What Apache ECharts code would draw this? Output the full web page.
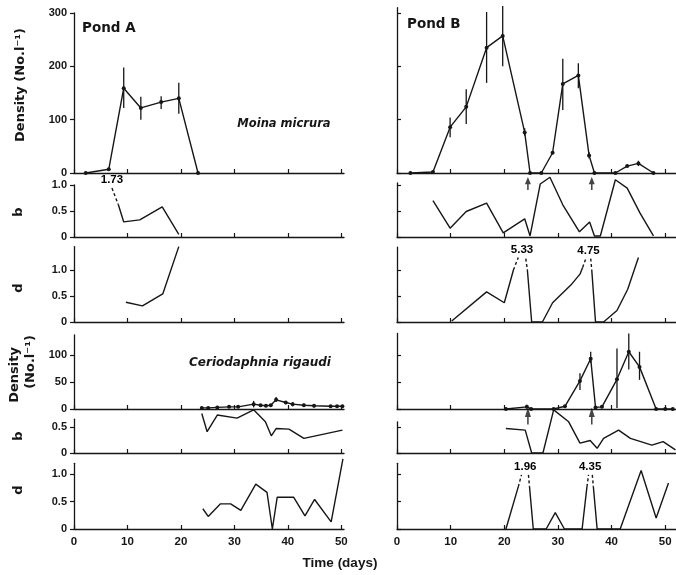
<!DOCTYPE html>
<html>
<head>
<meta charset="utf-8">
<script src="https://cdn.jsdelivr.net/npm/echarts@6/dist/echarts.min.js"></script>
<style>
  html, body { margin: 0; padding: 0; background: #fff; }
  #chart { width: 676px; height: 575px; }
</style>
</head>
<body>
<div id="chart"></div>
<script>
// ---------- data (time in days) ----------
const timeTicks = [0, 10, 20, 30, 40, 50];
const densityTicksMoina = [0, 100, 200, 300];
const densityTicksCerio = [0, 50, 100];
const rateTicks = [0, 0.5, 1.0];
const rateTicksShort = [0, 0.5];

// Days on which Pond B was disturbed (arrows)
const eventDaysB = [24.4, 36.3];

// Moina micrura density (No. l-1), mean and range
const moinaDensA = [[2.2, 0], [6.5, 7], [9.3, 159], [12.5, 122], [16.3, 133], [19.6, 140], [23.2, 0]];
const moinaDensAErr = [[9.3, 122, 198], [12.5, 100, 143], [16.3, 120, 144], [19.6, 111, 169]];
const moinaDensB = [[2.5, 0], [6.7, 2], [9.9, 86], [12.9, 124], [16.7, 235], [19.7, 257], [23.8, 76], [24.8, 0],
  [26.9, 0], [29.0, 38], [30.9, 167], [33.8, 183], [35.8, 33], [36.8, 0], [40.7, 0], [42.9, 13], [45.0, 18], [47.8, 0]];
const moinaDensBErr = [[9.9, 67, 104], [12.9, 92, 157], [16.7, 169, 302], [19.7, 200, 313], [23.8, 70, 84],
  [30.9, 118, 214], [33.8, 159, 206], [35.8, 27, 39], [45.0, 13, 23]];

// Moina micrura birth rate b
const moinaBirthA = [[8.3, 0.62], [9.3, 0.29], [12.3, 0.33], [16.5, 0.58], [19.6, 0.05]];
const moinaBirthAOff = [[7.1, 0.94], [8.3, 0.62]];
const moinaBirthAPeaks = [[7.1, 0.94, 1.73]];
const moinaBirthB = [[6.7, 0.70], [9.9, 0.17], [12.9, 0.49], [16.7, 0.65], [19.8, 0.08], [23.8, 0.35], [24.8, 0.02],
  [26.7, 1.02], [28.5, 1.15], [30.9, 0.62], [34.0, 0.10], [35.9, 0.29], [36.8, 0.02], [37.9, 0.02],
  [40.7, 1.10], [42.9, 0.94], [45.3, 0.46], [47.8, 0.02]];

// Moina micrura death rate d
const moinaDeathA = [[9.7, 0.38], [12.8, 0.31], [16.6, 0.54], [19.6, 1.45]];
const moinaDeathB = [
  [[10.2, 0.02], [16.7, 0.58], [20.0, 0.37], [21.7, 1.0]],
  [[24.3, 1.0], [25.1, 0], [27.1, 0], [29.0, 0.37], [32.4, 0.71], [34.1, 0.92], [34.6, 1.05]],
  [[36.3, 1.0], [37.0, 0], [38.5, 0], [41.0, 0.22], [43.0, 0.63], [45.0, 1.24]]
];
const moinaDeathBOff = [
  [[21.7, 1.0], [22.6, 1.24]], [[24.0, 1.22], [24.3, 1.0]],
  [[34.6, 1.05], [35.2, 1.22]], [[36.1, 1.22], [36.3, 1.0]]
];
const moinaDeathBPeaks = [[23.3, 1.23, 5.33], [35.7, 1.22, 4.75]];

// Ceriodaphnia rigaudi density (No. l-1)
const cerioDensA = [[23.9, 2], [25.1, 2], [26.8, 3], [29.0, 4], [30.7, 4], [33.6, 9], [34.9, 7], [35.9, 6],
  [36.8, 7], [37.8, 17], [39.6, 12], [40.9, 9], [43.0, 7], [44.9, 6], [48.0, 5], [49.2, 5], [50.2, 5]];
const cerioDensAErr = [[33.6, 3, 15], [37.8, 13, 22], [39.6, 9, 15], [40.9, 5, 13], [43.0, 4, 10], [44.9, 3, 9]];
const cerioDensB = [[20.3, 0], [24.2, 4], [25.0, 0], [29.2, 0], [31.3, 5], [34.1, 52], [36.1, 93], [37.0, 3],
  [38.2, 4], [41.0, 55], [43.2, 106], [45.2, 78], [48.3, 0], [50.0, 0], [51.4, 0]];
const cerioDensBErr = [[24.2, 1, 8], [34.1, 35, 66], [36.1, 85, 106], [41.0, 2, 112], [43.2, 73, 140], [45.2, 54, 106]];

// Ceriodaphnia rigaudi birth rate b
const cerioBirthA = [[23.9, 0.76], [24.9, 0.41], [26.8, 0.73], [30.5, 0.67], [33.6, 0.83], [35.8, 0.60],
  [36.9, 0.33], [37.8, 0.47], [40.2, 0.46], [43.0, 0.28], [50.2, 0.44]];
const cerioBirthB = [[20.3, 0.47], [23.9, 0.44], [25.1, 0], [27.2, 0], [29.2, 0.83], [32.0, 0.60], [34.1, 0.19],
  [36.0, 0.24], [37.3, 0.09], [38.5, 0.28], [41.3, 0.44], [43.5, 0.28], [47.5, 0.15], [49.6, 0.22], [51.9, 0.06]];

// Ceriodaphnia rigaudi death rate d
const cerioDeathA = [[24.1, 0.37], [25.1, 0.23], [27.4, 0.46], [29.3, 0.46], [31.2, 0.34], [34.0, 0.82],
  [36.1, 0.67], [37.1, 0], [38.0, 0.58], [41.1, 0.58], [43.2, 0.24], [45.0, 0.54], [48.1, 0.13], [50.3, 1.28]];
const cerioDeathB = [
  [[20.3, 0], [22.6, 0.77]],
  [[24.7, 0.77], [25.4, 0], [27.8, 0], [29.5, 0.30], [31.2, 0], [34.5, 0], [35.4, 0.77]],
  [[36.6, 0.77], [37.3, 0], [41.6, 0], [45.5, 1.07], [48.3, 0.20], [50.6, 0.84]]
];
const cerioDeathBOff = [
  [[22.6, 0.77], [23.2, 0.99]], [[24.5, 0.99], [24.7, 0.77]],
  [[35.4, 0.77], [35.7, 0.99]], [[36.4, 0.99], [36.6, 0.77]]
];
const cerioDeathBPeaks = [[23.9, 0.99, 1.96], [36.0, 0.99, 4.35]];

// ---------- layout ----------
const INK = '#161616';
const NUM_FONT = '"Liberation Sans", Arial, sans-serif';
const TITLE_FONT = '"DejaVu Sans", "Liberation Sans", sans-serif';

// one entry per row: pixel position of the value-0 line, scale, and the two ponds' axis max
const rows = [
  { zero: 173, pxPerUnit: 160 / 300, maxA: 300, maxB: 310, ticks: densityTicksMoina, fmt: 'int' },
  { zero: 237, pxPerUnit: 52, maxA: 1.0, maxB: 1.04, ticks: rateTicks, fmt: 'dec' },
  { zero: 322, pxPerUnit: 52, maxA: 1.45, maxB: 1.44, ticks: rateTicks, fmt: 'dec' },
  { zero: 409, pxPerUnit: 0.54, maxA: 137, maxB: 140, ticks: densityTicksCerio, fmt: 'int' },
  { zero: 453, pxPerUnit: 52, maxA: 0.65, maxB: 0.6, ticks: rateTicksShort, fmt: 'dec' },
  { zero: 529, pxPerUnit: 54.7, maxA: 1.2, maxB: 1.2, ticks: rateTicks, fmt: 'dec' }
];
const ponds = [
  { left: 74, xMax: 50.5, width: 270 },
  { left: 397, xMax: 52, width: 279 }
];

const grids = [], xAxes = [], yAxes = [];
rows.forEach((r, ri) => {
  ponds.forEach((p, pi) => {
    const max = pi === 0 ? r.maxA : r.maxB;
    const h = max * r.pxPerUnit;
    grids.push({ left: p.left, top: r.zero - h, width: p.width, height: h, containLabel: false, outerBoundsMode: 'none' });
    const gi = grids.length - 1;
    const bottom = ri === rows.length - 1;
    xAxes.push({
      type: 'value', gridIndex: gi, min: 0, max: p.xMax,
      axisLine: { show: true, onZero: false, lineStyle: { color: INK, width: 1.3 } },
      axisTick: { show: true, inside: true, length: 4, customValues: timeTicks, lineStyle: { color: INK, width: 1.2 } },
      axisLabel: { show: bottom, customValues: timeTicks, margin: 7, color: INK, fontSize: 11.5, fontWeight: 'bold', fontFamily: NUM_FONT },
      splitLine: { show: false }
    });
    yAxes.push({
      type: 'value', gridIndex: gi, min: 0, max: max,
      axisLine: { show: true, onZero: false, lineStyle: { color: INK, width: 1.3 } },
      axisTick: { show: true, inside: pi === 1, length: 4, customValues: r.ticks, lineStyle: { color: INK, width: 1.2 } },
      axisLabel: {
        show: pi === 0, customValues: r.ticks, margin: 7, color: INK, fontSize: 11, fontWeight: 'bold', fontFamily: NUM_FONT,
        formatter: v => (r.fmt === 'dec' && v !== 0) ? v.toFixed(1) : String(v)
      },
      splitLine: { show: false }
    });
  });
});
const gi = (row, pond) => row * 2 + pond;

// ---------- series builders ----------
function line(g, data, opt = {}) {
  return {
    type: 'line', xAxisIndex: g, yAxisIndex: g, data: data,
    symbol: opt.dots ? 'circle' : 'none', symbolSize: opt.dots ? 4 : 0, showSymbol: !!opt.dots,
    itemStyle: { color: INK },
    lineStyle: { color: INK, width: 1.4, type: opt.dashed ? [3, 2.5] : 'solid' },
    clip: false, silent: true, animation: false, z: 3
  };
}
function errorBars(g, data) {
  return {
    type: 'custom', xAxisIndex: g, yAxisIndex: g, data: data, clip: false, silent: true, animation: false,
    encode: { x: 0, y: [1, 2] },
    renderItem: (params, api) => {
      const lo = api.coord([api.value(0), api.value(1)]);
      const hi = api.coord([api.value(0), api.value(2)]);
      return { type: 'line', shape: { x1: lo[0], y1: lo[1], x2: hi[0], y2: hi[1] }, style: { stroke: INK, lineWidth: 1.3 } };
    }
  };
}
function arrows(g, offsetY, size) {
  return {
    type: 'scatter', xAxisIndex: g, yAxisIndex: g, data: eventDaysB.map(d => [d, 0]),
    symbol: 'path://M5,0 L10,9 L6.3,9 L6.3,16 L3.7,16 L3.7,9 L0,9 Z',
    symbolSize: size, symbolOffset: [0, offsetY], itemStyle: { color: INK },
    clip: false, silent: true, animation: false, z: 5
  };
}
// value of a peak that runs off the top of its panel, written above the broken line
function peakLabels(g, data) {
  return {
    type: 'scatter', xAxisIndex: g, yAxisIndex: g, data: data, symbolSize: 0.1,
    itemStyle: { color: 'rgba(0,0,0,0)' }, clip: false, silent: true, animation: false,
    label: {
      show: true, position: 'top', distance: 2, color: '#000', opacity: 1, fontSize: 11.5,
      fontWeight: 'bold', fontFamily: NUM_FONT,
      formatter: p => p.value[2].toFixed(2)
    }
  };
}

const series = [
  // Moina density
  line(gi(0, 0), moinaDensA, { dots: true }), errorBars(gi(0, 0), moinaDensAErr),
  line(gi(0, 1), moinaDensB, { dots: true }), errorBars(gi(0, 1), moinaDensBErr),
  arrows(gi(0, 1), 10.5, [6, 13]),
  // Moina b
  line(gi(1, 0), moinaBirthA), line(gi(1, 0), moinaBirthAOff, { dashed: true }),
  peakLabels(gi(1, 0), moinaBirthAPeaks),
  line(gi(1, 1), moinaBirthB),
  // Moina d
  line(gi(2, 0), moinaDeathA),
  ...moinaDeathB.map(s => line(gi(2, 1), s)),
  ...moinaDeathBOff.map(s => line(gi(2, 1), s, { dashed: true })),
  peakLabels(gi(2, 1), moinaDeathBPeaks),
  // Ceriodaphnia density
  line(gi(3, 0), cerioDensA, { dots: true }), errorBars(gi(3, 0), cerioDensAErr),
  line(gi(3, 1), cerioDensB, { dots: true }), errorBars(gi(3, 1), cerioDensBErr),
  arrows(gi(3, 1), 7, [6, 17]),
  // Ceriodaphnia b
  line(gi(4, 0), cerioBirthA), line(gi(4, 1), cerioBirthB),
  // Ceriodaphnia d
  line(gi(5, 0), cerioDeathA),
  ...cerioDeathB.map(s => line(gi(5, 1), s)),
  ...cerioDeathBOff.map(s => line(gi(5, 1), s, { dashed: true })),
  peakLabels(gi(5, 1), cerioDeathBPeaks)
];

// ---------- text ----------
function txt(text, x, y, opt = {}) {
  return {
    type: 'text', x: x, y: y, rotation: opt.rot || 0, silent: true, z: 10,
    style: {
      text: text, fill: INK, align: opt.align || 'center', verticalAlign: 'middle',
      font: (opt.italic ? 'italic ' : '') + 'bold ' + (opt.size || 13) + 'px ' + (opt.family || TITLE_FONT)
    }
  };
}
const R = Math.PI / 2;
const graphic = [
  txt('Pond A', 82, 28, { align: 'left', size: 13.5 }),
  txt('Pond B', 407, 24, { align: 'left', size: 13.5 }),
  txt('Moina micrura', 284, 124, { italic: true, size: 11.5 }),
  txt('Ceriodaphnia rigaudi', 260, 363, { italic: true, size: 12 }),
  txt('Density (No.l⁻¹)', 21, 85, { rot: R, size: 13 }),
  txt('b', 19, 212, { rot: R, size: 13 }),
  txt('d', 19, 288, { rot: R, size: 13 }),
  txt('Density', 15, 375, { rot: R, size: 13 }),
  txt('(No.l⁻¹)', 31, 362, { rot: R, size: 13 }),
  txt('b', 19, 436, { rot: R, size: 13 }),
  txt('d', 19, 490, { rot: R, size: 13 }),
  txt('Time (days)', 340, 563, { size: 13.5, family: NUM_FONT })
];

const chart = echarts.init(document.getElementById('chart'), null, { renderer: 'canvas' });
chart.setOption({
  backgroundColor: '#fff',
  animation: false,
  grid: grids,
  xAxis: xAxes,
  yAxis: yAxes,
  series: series,
  graphic: graphic
});
</script>
</body>
</html>
